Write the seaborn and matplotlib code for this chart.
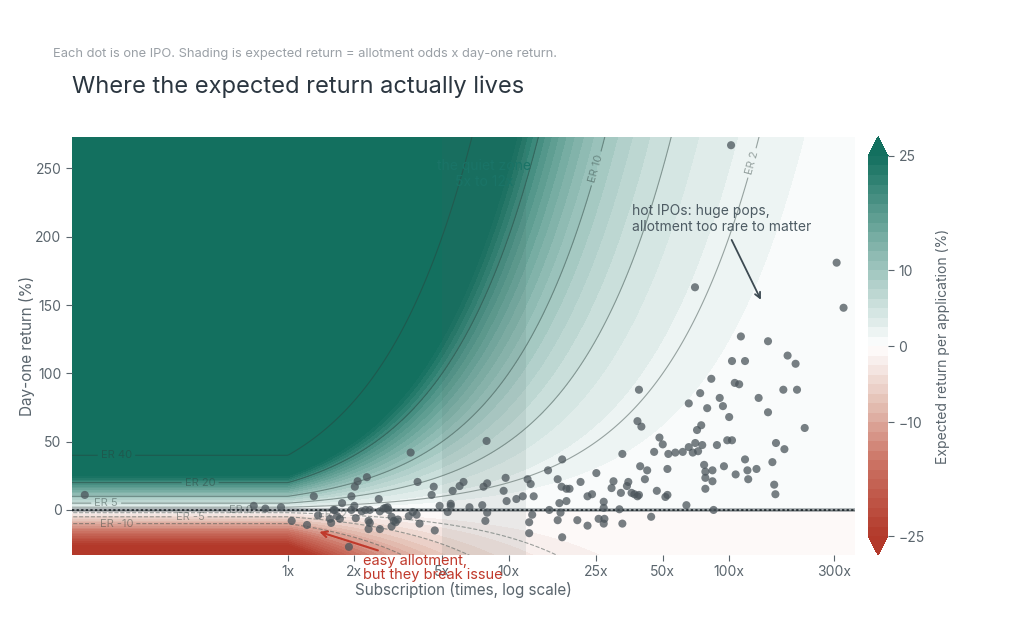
import numpy as np
import pandas as pd
import matplotlib
matplotlib.use("Agg")
import matplotlib.pyplot as plt
from matplotlib.colors import LinearSegmentedColormap
import seaborn as sns

# one row per IPO: subscription (times) and day-one return (%)
subscription = [
    0.12, 0.70, 0.79, 0.93, 1.04, 1.22, 1.31, 1.37, 1.89, 3.6,
    1.55, 1.57, 1.61, 1.67, 1.72, 1.76, 1.94, 1.94, 2.01, 2.0,
    2.03, 2.07, 2.16, 2.25, 2.28, 2.35, 2.32, 2.35, 2.32, 2.58,
    2.61, 2.61, 2.72, 2.83, 2.86, 2.95, 3.02, 3.08, 2.95, 3.53,
    3.68, 3.83, 3.87, 3.95, 4.48, 4.58, 4.63, 4.87, 5.3, 5.47,
    5.47, 5.58, 6.0, 6.25, 6.65, 7.6, 7.7, 7.85, 7.95, 8.0,
    8.0, 9.5, 9.7, 9.8, 10.85, 11.6, 12.2, 12.6, 12.4, 12.4,
    12.8, 13.0, 15.1, 15.3, 16.7, 16.7, 17.0, 17.2, 17.4, 17.5,
    17.5, 18.3, 18.3, 18.9, 20.5, 21.2, 22.8, 22.8, 23.9, 25,
    25.6, 27, 27, 27, 27.2, 29.3, 29.9, 31.8, 32.3, 32.8,
    32.8, 34.4, 34.9, 36.1, 37.2, 38.4, 39, 38.4, 40, 39,
    39.5, 41.5, 42.5, 44.3, 45.7, 47, 48.3, 50, 51.4, 52.5,
    52.5, 53, 57, 61.6, 64, 65.6, 65.6, 68.4, 70.2, 71.5,
    72.3, 73.9, 74.7, 75.5, 77, 78, 78, 78, 79.5, 84,
    84, 85, 88, 90.6, 93.7, 94.7, 98, 103, 100, 106,
    111, 107, 118, 121, 122, 133, 136, 150, 157, 160,
    162, 163, 176, 178, 203, 220, 113, 150, 184, 200,
    103, 118, 83, 102, 70, 307, 330, 3.15, 2.77, 1.63,
]
day_one_return = [
    11, 3, 1, 2, -8, -11, 10, -4, -27, 42,
    -6.5, -9.5, 0, -4.5, -6.5, 5, 10, 0, 17, 3,
    -6, 21, -1, 0, 24, 0, -8, -9.5, -14, 8,
    -1, -14, 1, 2, 0, -5, -8, -9, -12, -4.5,
    -1.5, -3.5, 20.5, -10, 11, 17, -15, 3, -1.5, 4.5,
    3, 14, 17.5, 20.5, 2, 3.5, 17, -8, 50.5, 19.5,
    -2, 14, 23.5, 6.5, 8, 10, 22.5, 19, -9, -17,
    -3.5, 10, 29, 0, 22.5, -7.5, 5, -2, 17, 37,
    -20, 6.5, 15.5, 15.5, -7.5, 20.5, -11.5, 10, 11.5, 27,
    -6.5, 6, 1.5, -10, -6.5, 16, 21, 0.5, 12.5, -10,
    41, 17.5, 20.5, 12.5, 11.5, 10, 11, 65, 61, 88,
    32, 22.5, 29, -5, 42.5, 14, 53, 48, 9.5, 11,
    30, 41, 42, 42.5, 3.5, 46, 78, 42, 49, 58.5,
    43, 85.5, 62, 47.5, 33, 15.5, 28, 23.5, 74.5, 29,
    21, 0, 47.5, 82, 76, 32, 51, 51, 68, 93,
    92, 26, 37, 29, 22.5, 30, 82, 71.5, 35, 18.5,
    11.5, 49, 88, 44.5, 88, 60, 127, 123.5, 113, 107,
    109, 109, 96, 267, 163, 181, 148, -7, 1.5, 0,
]
ipos = pd.DataFrame({"subscription": subscription, "day_one_return": day_one_return})

er_lines = [-10, -5, -2, 0, 2, 5, 10, 20, 40]
x_ticks = [1, 2, 5, 10, 25, 50, 100, 300]
x_ticklabels = ["1x", "2x", "5x", "10x", "25x", "50x", "100x", "300x"]
cbar_ticks = [-25, -10, 0, 10, 25]

sns.set_theme(style="white")
plt.rcParams["font.family"] = ["Inter", "DejaVu Sans"]

grey = "#5a656d"
fig = plt.figure(figsize=(10.24, 6.23), dpi=100)
ax = fig.add_axes([0.0703, 0.1091, 0.7647, 0.6710])
cax = fig.add_axes([0.8477, 0.1091, 0.0195, 0.6710])
ax.set_xscale("log")

# expected return surface: odds (capped at 1) times day-one return
gx = np.logspace(-1, np.log10(380), 500)
gy = np.linspace(-35, 280, 500)
GX, GY = np.meshgrid(gx, gy)
ER = GY * np.minimum(1.0, 1.0 / GX)

cmap = LinearSegmentedColormap.from_list(
    "er", [(0.0, "#b3392a"), (0.2, "#cc7566"), (0.35, "#e4c0b5"),
           (0.5, "#ffffff"), (1.0, "#13705f")])
cmap.set_over("#13705f")
cmap.set_under("#b3392a")
levels = np.linspace(-25, 25, 41)
cf = ax.contourf(GX, GY, ER, levels=levels, cmap=cmap, extend="both", zorder=0)

cs = ax.contour(GX, GY, ER, levels=er_lines, colors="#2c3e3a", linewidths=0.8,
                alpha=0.45, zorder=1)
ax.clabel(cs, fmt=lambda v: f"ER {v:g}", fontsize=8,
          inline=True, inline_spacing=3,
          manual=[(0.167, -10), (0.36, -5), (1.6, -2), (0.61, 0), (127, 254),
                  (0.15, 5), (25, 250), (0.40, 20), (0.167, 40)])

ax.axvspan(5, 12, facecolor="#4a6560", alpha=0.1, lw=0, zorder=2)
ax.text(7.75, 246, "the quiet zone\n5x to 12x", ha="center", va="center",
        fontsize=10, color="#1a7467", zorder=2.5)
ax.axhline(0, color="#3a464d", lw=2.6, alpha=0.45, zorder=3)
ax.axhline(0, color="#111a1f", lw=1.1, ls=(0, (1.5, 1.5)), zorder=3)

sns.scatterplot(data=ipos, x="subscription", y="day_one_return", ax=ax,
                color="#4b555b", alpha=0.75, s=34, edgecolor="none",
                zorder=4, legend=False)

ax.annotate("hot IPOs: huge pops,\nallotment too rare to matter",
            xy=(141, 152), xytext=(36.2, 224), ha="left", va="top",
            fontsize=10, color="#4d5b63", zorder=6,
            arrowprops=dict(arrowstyle="->", color="#3d4a52", lw=1.3))
ax.annotate("easy allotment,\nbut they break issue",
            xy=(1.35, -15.4), xytext=(2.18, -32), ha="left", va="top",
            fontsize=10.5, color="#c0392b", zorder=6, annotation_clip=False,
            linespacing=1.0,
            arrowprops=dict(arrowstyle="->", color="#c0392b", lw=1.5,
                            shrinkA=0, shrinkB=2))

ax.set_xlim(0.105, 372)
ax.set_ylim(-33, 273)
ax.set_xticks(x_ticks)
ax.set_xticklabels(x_ticklabels)
ax.xaxis.set_minor_locator(matplotlib.ticker.NullLocator())
ax.set_yticks([0, 50, 100, 150, 200, 250])
ax.tick_params(axis="both", colors=grey, labelsize=10, length=4, width=0.8,
               bottom=True, left=True)
ax.set_xlabel("Subscription (times, log scale)", fontsize=11, color=grey, labelpad=2)
ax.set_ylabel("Day-one return (%)", fontsize=11, color=grey, labelpad=0)
for sp in ax.spines.values():
    sp.set_visible(False)

cb = fig.colorbar(cf, cax=cax, ticks=cbar_ticks)
cb.outline.set_visible(False)
cb.ax.tick_params(colors=grey, labelsize=10, length=4, width=0.8)
cb.set_label("Expected return per application (%)", fontsize=10, color=grey,
             labelpad=8)

fig.text(72 / 1024, 1 - 87 / 623, "Where the expected return actually lives",
         fontsize=17, color="#2b3640", va="center", ha="left")
fig.text(53 / 1024, 1 - 54 / 623,
         "Each dot is one IPO. Shading is expected return = allotment odds x day-one return.",
         fontsize=9.3, color="#9aa0a6", va="center", ha="left")

fig.savefig("out.png", dpi=100)
